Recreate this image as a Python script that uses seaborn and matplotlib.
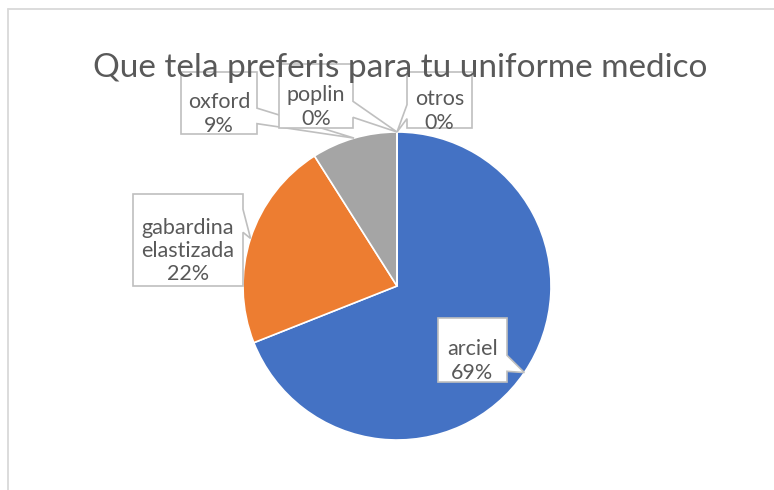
import textwrap
import numpy as np
import matplotlib
matplotlib.use("Agg")
import matplotlib.pyplot as plt
import seaborn as sns
from matplotlib.patches import Polygon

# ---- data ----
categories = ["arciel", "gabardina elastizada", "oxford", "poplin", "otros"]
values = [69, 22, 9, 0, 0]
colors = ["#4472C4", "#ED7D31", "#A5A5A5", "#FFC000", "#5B9BD5"]
title = "Que tela preferis para tu uniforme medico"

# ---- layout (pixel coords, origin top-left) ----
W, H = 774, 490
pie_cx, pie_cy, pie_r = 397, 286, 154
boxes = {
    "arciel": (438, 318, 507, 382),
    "gabardina elastizada": (133, 194, 243, 286),
    "oxford": (181, 72, 257, 134),
    "poplin": (279, 64, 353, 128),
    "otros": (407, 72, 472, 128),
}
text_dy = 11

sns.set_theme(style="white")
plt.rcParams["font.family"] = ["Lato", "DejaVu Sans"]

fig = plt.figure(figsize=(W / 100, H / 100), dpi=100)
fig.patch.set_facecolor("white")

# pie axes
axp = fig.add_axes([(pie_cx - pie_r) / W, (H - pie_cy - pie_r) / H, 2 * pie_r / W, 2 * pie_r / H])
wedges, _ = axp.pie(values, colors=colors, startangle=90, counterclock=False,
                    radius=1, wedgeprops=dict(edgecolor="white", linewidth=1.2))
axp.set_xlim(-1, 1)
axp.set_ylim(-1, 1)
axp.set_aspect("equal")
axp.axis("off")

# overlay axes in pixel coordinates
axo = fig.add_axes([0, 0, 1, 1])
axo.set_xlim(0, W)
axo.set_ylim(H, 0)
axo.axis("off")
axo.patch.set_alpha(0)

# chart frame (left and top edges visible)
axo.plot([7.5, 7.5], [H, 9.5], color="#D9D9D9", lw=1.3, zorder=1)
axo.plot([7.5, W], [9.5, 9.5], color="#D9D9D9", lw=1.3, zorder=1)

fig.canvas.draw()


def to_px(x, y):
    d = axp.transData.transform((x, y))
    return d[0], H - d[1]


def callout_poly(x0, y0, x1, y1, tx, ty):
    w, h = x1 - x0, y1 - y0
    cx, cy = (x0 + x1) / 2, (y0 + y1) / 2
    dx, dy = (tx - cx) / w, (ty - cy) / h
    xb1 = x0 + w * (7 if dx > 0 else 2) / 12
    xb2 = x0 + w * (10 if dx > 0 else 5) / 12
    yb1 = y0 + h * (7 if dy > 0 else 2) / 12
    yb2 = y0 + h * (10 if dy > 0 else 5) / 12
    tip = (tx, ty)
    top = [(x0, y0)]
    right = [(x1, y0)]
    bottom = [(x1, y1)]
    left = [(x0, y1)]
    inside = x0 <= tx <= x1 and y0 <= ty <= y1
    if not inside:
        if abs(dx) > abs(dy):
            if dx > 0:
                right += [(x1, yb1), tip, (x1, yb2)]
            else:
                left += [(x0, yb2), tip, (x0, yb1)]
        else:
            if dy > 0:
                bottom += [(xb2, y1), tip, (xb1, y1)]
            else:
                top += [(xb1, y0), tip, (xb2, y0)]
    return top + right + bottom + left


total = sum(values)
for i, (w, name) in enumerate(zip(wedges, categories)):
    ang = np.deg2rad((w.theta1 + w.theta2) / 2)
    tx, ty = to_px(np.cos(ang), np.sin(ang))
    x0, y0, x1, y1 = boxes[name]
    pts = callout_poly(x0, y0, x1, y1, tx, ty)
    axo.add_patch(Polygon(pts, closed=True, facecolor="white", edgecolor="#BFBFBF",
                          lw=1.2, zorder=3 + i * 0.1, joinstyle="miter"))
    pct = round(100 * values[i] / total)
    label = textwrap.fill(name, 10) + f"\n{pct}%"
    axo.text((x0 + x1) / 2, (y0 + y1) / 2 + text_dy, label, ha="center", va="center",
             fontsize=15.5, color="#595959", linespacing=1.2, zorder=3.05 + i * 0.1)

axo.text(400, 77, title, ha="center", va="baseline", fontsize=24, color="#595959", zorder=10)

fig.savefig("out.png", dpi=100, facecolor="white")
